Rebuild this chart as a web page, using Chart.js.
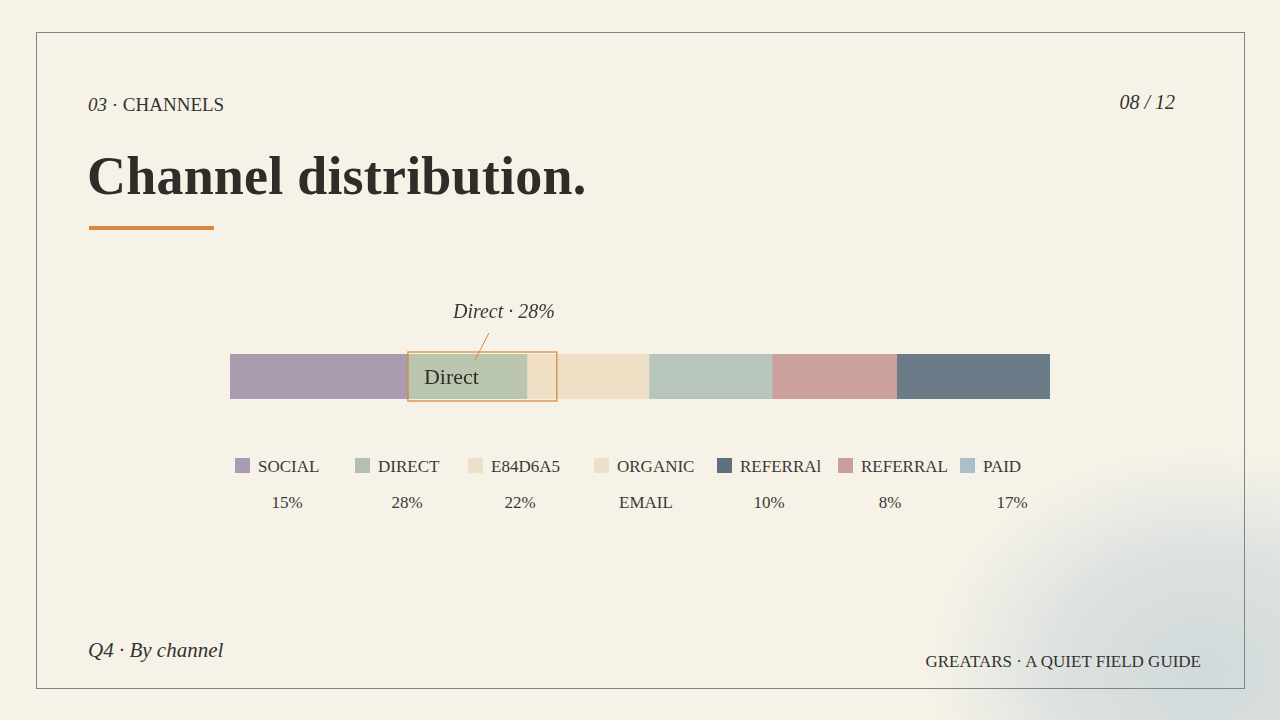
<!DOCTYPE html>
<html>
<head>
<meta charset="utf-8">
<script src="https://cdn.jsdelivr.net/npm/chart.js@4"></script>
<style>
    html, body { margin: 0; padding: 0; }
    body {
        width: 1280px; height: 720px; overflow: hidden; position: relative;
        background: #f6f2e7;
        font-family: "Liberation Serif", "DejaVu Serif", serif;
        color: #33322f;
    }
    .blob {
        position: absolute; left: 930px; top: 450px; width: 440px; height: 380px;
        background: radial-gradient(ellipse at 62% 58%, rgba(200,211,216,0.8) 0%, rgba(208,217,220,0.65) 38%, rgba(222,228,227,0.35) 60%, rgba(246,242,231,0) 72%);
    }
    .frame {
        position: absolute; left: 36px; top: 32px; width: 1207px; height: 655px;
        border: 1.5px solid #7e8684;
    }
    .kicker { position: absolute; left: 88px; top: 94px; font-size: 19px; }
    .kicker i, .page, .foot-left { font-style: italic; }
    .page { position: absolute; right: 105px; top: 91px; font-size: 20px; }
    h1 {
        position: absolute; left: 87px; top: 145px; margin: 0;
        font-size: 54px; font-weight: bold; color: #2e2d2a; letter-spacing: 0.2px;
    }
    .rule { position: absolute; left: 89px; top: 226px; width: 125px; height: 4px; background: #d9873f; }
    #chartWrap { position: absolute; left: 0; top: 280px; width: 1280px; height: 150px; }
    .legend {
        position: absolute; left: 235px; top: 456px; width: 850px;
        display: grid; grid-template-columns: 120px 113px 126px 123px 121px 122px 120px; row-gap: 14px;
        font-size: 17px; color: #3a3936;
    }
    .legend div { text-align: left; white-space: nowrap; line-height: 22px; }
    .legend div.pct { width: 104px; text-align: center; }
    .legend span.sw { display: inline-block; width: 15px; height: 15px; margin-right: 8px; vertical-align: -1px; }
    .foot-left { position: absolute; left: 88px; top: 638px; font-size: 21px; }
    .foot-right { position: absolute; right: 79px; top: 652px; font-size: 17px; }
</style>
</head>
<body>
<div class="blob"></div>
<div class="frame"></div>
<div class="kicker"><i>03</i> · CHANNELS</div>
<div class="page">08 / 12</div>
<h1>Channel distribution.</h1>
<div class="rule"></div>
<div id="chartWrap"><canvas id="chartCanvas"></canvas></div>
<div class="legend" id="legend"></div>
<div class="foot-left">Q4 · By channel</div>
<div class="foot-right">GREATARS · A QUIET FIELD GUIDE</div>

<script>
// bar segments, share of total width
const segLabels = ["Social", "Direct", "Organic", "Email", "Referral", "Referral 2"];
const segValues = [21.7, 14.5, 14.9, 15.0, 15.2, 18.7];
const segColors = ["#aa9caf", "#b9c5ad", "#eedfc5", "#b8c5ba", "#cca09b", "#6b7b88"];

// legend rows as printed
const legendLabels = ["SOCIAL", "DIRECT", "E84D6A5", "ORGANIC", "REFERRAl", "REFERRAL", "PAID"];
const legendValues = ["15%", "28%", "22%", "EMAIL", "10%", "8%", "17%"];
const legendColors = ["#a99bb1", "#b2c0b1", "#ede0c8", "#ede0c8", "#5f6f7f", "#cc9d9c", "#a9c0ca"];

const highlightIndex = 1;
const highlightText = "Direct · 28%";

document.addEventListener("DOMContentLoaded", () => {
    const legend = document.getElementById("legend");
    legendLabels.forEach((lab, i) => {
        const d = document.createElement("div");
        d.innerHTML = `<span class="sw" style="background:${legendColors[i]}"></span>${lab}`;
        legend.appendChild(d);
    });
    legendValues.forEach(v => {
        const d = document.createElement("div");
        d.className = "pct";
        d.textContent = v;
        legend.appendChild(d);
    });

    // box + callout around the highlighted segment
    const highlightPlugin = {
        id: "highlight",
        afterDatasetsDraw(chart) {
            const el = chart.getDatasetMeta(highlightIndex).data[0];
            const ctx = chart.ctx;
            const left = Math.min(el.base, el.x);
            const right = Math.max(el.base, el.x);
            const top = el.y - el.height / 2;
            const bottom = el.y + el.height / 2;
            ctx.save();
            ctx.strokeStyle = "#d98a3c";
            ctx.lineWidth = 1.3;
            ctx.strokeRect(left, top - 2, right - left + 30, bottom - top + 4);

            ctx.beginPath();
            ctx.lineWidth = 1;
            ctx.moveTo(left + 81, top - 21);
            ctx.lineTo(left + 67, top + 6);
            ctx.stroke();

            ctx.fillStyle = "#2f2e2b";
            ctx.font = "22px 'Liberation Serif'";
            ctx.textBaseline = "middle";
            ctx.fillText(segLabels[highlightIndex], left + 16, el.y + 2);

            ctx.fillStyle = "#3a3936";
            ctx.font = "italic 20px 'Liberation Serif'";
            ctx.textAlign = "center";
            ctx.fillText(highlightText, left + 96, top - 41);
            ctx.restore();
        }
    };

    new Chart(document.getElementById("chartCanvas"), {
        type: "bar",
        data: {
            labels: ["Channels"],
            datasets: segLabels.map((lab, i) => ({
                label: lab,
                data: [segValues[i]],
                backgroundColor: segColors[i],
                borderWidth: 0,
                barPercentage: 1,
                categoryPercentage: 1
            }))
        },
        options: {
            indexAxis: "y",
            responsive: true,
            maintainAspectRatio: false,
            animation: false,
            layout: { padding: { left: 230, right: 230, top: 74, bottom: 31 } },
            scales: {
                x: { stacked: true, display: false, min: 0, max: segValues.reduce((a, b) => a + b, 0) },
                y: { stacked: true, display: false }
            },
            plugins: { legend: { display: false }, tooltip: { enabled: false } }
        },
        plugins: [highlightPlugin]
    });
});
</script>
</body>
</html>
